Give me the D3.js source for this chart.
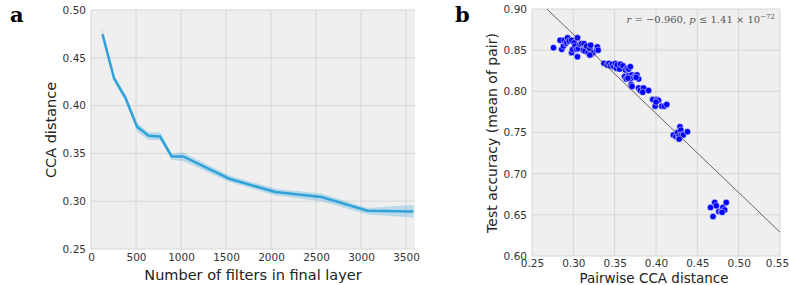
<!DOCTYPE html>
<html>
<head>
<meta charset="utf-8">
<script src="https://d3js.org/d3.v7.min.js"></script>
<style>
  body { margin: 0; background: #fff; }
</style>
</head>
<body>
<div id="plotarea"></div>
<script>
// panel a data: filters vs mean CCA distance with its band
var filters = [128, 256, 384, 512, 640, 768, 896, 1024, 1536, 2048, 2560, 3072, 3584];
var ccaMean = [0.4746, 0.4286, 0.408, 0.378, 0.3684, 0.3677, 0.3468, 0.3468, 0.3235, 0.3096, 0.3043, 0.2900, 0.2893];
var ccaLow  = [0.469, 0.425, 0.404, 0.373, 0.364, 0.364, 0.343, 0.342, 0.320, 0.306, 0.300, 0.286, 0.283];
var ccaHigh = [0.481, 0.432, 0.411, 0.382, 0.372, 0.372, 0.350, 0.351, 0.327, 0.313, 0.308, 0.293, 0.296];
var aXTicks = [0, 500, 1000, 1500, 2000, 2500, 3000, 3500];
var aYTicks = [0.25, 0.30, 0.35, 0.40, 0.45, 0.50];

// panel b data: pairwise CCA distance vs test accuracy
var pairDist = [
  0.276, 0.284, 0.286, 0.288, 0.289, 0.291, 0.292, 0.293, 0.295, 0.298, 0.298, 0.299, 0.301, 0.302, 0.304, 0.305, 0.305,
  0.306, 0.308, 0.310, 0.312, 0.313, 0.314, 0.316, 0.318, 0.320, 0.321, 0.322, 0.324, 0.328, 0.329, 0.330, 0.320,
  0.337, 0.341, 0.343, 0.345, 0.347, 0.349, 0.351, 0.352, 0.353, 0.356, 0.357, 0.360, 0.363, 0.365, 0.367, 0.369,
  0.362, 0.364, 0.367, 0.369, 0.371, 0.373, 0.375, 0.377, 0.379, 0.370, 0.371, 0.366, 0.379, 0.381, 0.385, 0.384, 0.391, 0.376,
  0.396, 0.399, 0.401, 0.403, 0.407, 0.410, 0.413, 0.400,
  0.421, 0.424, 0.426, 0.427, 0.428, 0.429, 0.430, 0.431, 0.433, 0.438, 0.428,
  0.466, 0.469, 0.471, 0.473, 0.476, 0.479, 0.481, 0.483, 0.485, 0.480];
var pairAcc = [
  0.853, 0.862, 0.851, 0.855, 0.862, 0.858, 0.860, 0.865, 0.861, 0.862, 0.847, 0.851, 0.859, 0.855, 0.851, 0.865, 0.842,
  0.852, 0.857, 0.858, 0.850, 0.858, 0.849, 0.855, 0.847, 0.852, 0.856, 0.845, 0.847, 0.850, 0.854, 0.850, 0.844,
  0.834, 0.832, 0.834, 0.831, 0.833, 0.830, 0.834, 0.828, 0.832, 0.827, 0.833, 0.831, 0.826, 0.828, 0.827, 0.830,
  0.818, 0.815, 0.819, 0.815, 0.820, 0.817, 0.819, 0.820, 0.815, 0.808, 0.806, 0.816, 0.804, 0.801, 0.804, 0.799, 0.801, 0.817,
  0.790, 0.782, 0.790, 0.789, 0.782, 0.782, 0.784, 0.787,
  0.747, 0.745, 0.750, 0.743, 0.746, 0.757, 0.753, 0.747, 0.747, 0.751, 0.742,
  0.659, 0.648, 0.665, 0.661, 0.654, 0.654, 0.659, 0.656, 0.665, 0.653];
var fitX = [0.268, 0.55];
var fitY = [0.900, 0.629];
var bXTicks = [0.25, 0.30, 0.35, 0.40, 0.45, 0.50, 0.55];
var bYTicks = [0.60, 0.65, 0.70, 0.75, 0.80, 0.85, 0.90];

var svg = d3.select("#plotarea")
  .append("svg")
    .attr("width", 790)
    .attr("height", 285)
    .style("font-family", "DejaVu Sans");

var bg = "#efefef", grid = "#d6d6d6", tickCol = "#333";

// ---------- panel a ----------
var ax = d3.scaleLinear().domain([0, 3600]).range([91, 415]);
var ay = d3.scaleLinear().domain([0.25, 0.50]).range([249, 10]);

svg.append("rect")
  .attr("x", ax(0)).attr("y", ay(0.50))
  .attr("width", ax(3600) - ax(0)).attr("height", ay(0.25) - ay(0.50))
  .attr("fill", bg);

svg.append("g").selectAll("line").data(aXTicks).enter().append("line")
  .attr("x1", function(d) { return ax(d); }).attr("x2", function(d) { return ax(d); })
  .attr("y1", ay(0.25)).attr("y2", ay(0.50))
  .attr("stroke", grid).attr("stroke-width", 1);
svg.append("g").selectAll("line").data(aYTicks).enter().append("line")
  .attr("x1", ax(0)).attr("x2", ax(3600))
  .attr("y1", function(d) { return ay(d); }).attr("y2", function(d) { return ay(d); })
  .attr("stroke", grid).attr("stroke-width", 1);

// axes, drawn with d3 then stripped of domain + tick marks
var axA = svg.append("g")
  .attr("transform", "translate(0," + ay(0.25) + ")")
  .call(d3.axisBottom(ax).tickValues(aXTicks).tickFormat(d3.format("d")).tickSize(0).tickPadding(5));
var ayA = svg.append("g")
  .attr("transform", "translate(" + ax(0) + ",0)")
  .call(d3.axisLeft(ay).tickValues(aYTicks).tickFormat(d3.format(".2f")).tickSize(0).tickPadding(5));
[axA, ayA].forEach(function(g) {
  g.select(".domain").remove();
  g.attr("font-family", null);
  g.selectAll("text").attr("font-size", 10.5).attr("fill", tickCol);
});

var aData = filters.map(function(f, i) { return {x: f, m: ccaMean[i], lo: ccaLow[i], hi: ccaHigh[i]}; });

svg.append("path")
  .datum(aData)
  .attr("fill", "#30a2da").attr("fill-opacity", 0.28)
  .attr("d", d3.area()
    .x(function(d) { return ax(d.x); })
    .y0(function(d) { return ay(d.lo); })
    .y1(function(d) { return ay(d.hi); }));

svg.append("path")
  .datum(aData)
  .attr("fill", "none").attr("stroke", "#30a2da").attr("stroke-width", 2.5)
  .attr("d", d3.line()
    .x(function(d) { return ax(d.x); })
    .y(function(d) { return ay(d.m); }));

svg.append("text")
  .attr("x", 253).attr("y", 280)
  .attr("text-anchor", "middle").attr("font-size", 14.5).attr("fill", "#222")
  .text("Number of filters in final layer");
svg.append("text")
  .attr("transform", "translate(56,130) rotate(-90)")
  .attr("text-anchor", "middle").attr("font-size", 14.5).attr("fill", "#222")
  .text("CCA distance");
svg.append("text")
  .attr("x", 10).attr("y", 22)
  .style("font-family", "'DejaVu Serif', serif").attr("font-weight", "bold").attr("font-size", 21)
  .text("a");

// ---------- panel b ----------
var bx = d3.scaleLinear().domain([0.25, 0.55]).range([532, 780]);
var by = d3.scaleLinear().domain([0.60, 0.90]).range([256, 9]);

svg.append("rect")
  .attr("x", bx(0.25)).attr("y", by(0.90))
  .attr("width", bx(0.55) - bx(0.25)).attr("height", by(0.60) - by(0.90))
  .attr("fill", bg);

svg.append("g").selectAll("line").data(bXTicks).enter().append("line")
  .attr("x1", function(d) { return bx(d); }).attr("x2", function(d) { return bx(d); })
  .attr("y1", by(0.60)).attr("y2", by(0.90))
  .attr("stroke", grid).attr("stroke-width", 1);
svg.append("g").selectAll("line").data(bYTicks).enter().append("line")
  .attr("x1", bx(0.25)).attr("x2", bx(0.55))
  .attr("y1", function(d) { return by(d); }).attr("y2", function(d) { return by(d); })
  .attr("stroke", grid).attr("stroke-width", 1);

var axB = svg.append("g")
  .attr("transform", "translate(0," + by(0.60) + ")")
  .call(d3.axisBottom(bx).tickValues(bXTicks).tickFormat(d3.format(".2f")).tickSize(0).tickPadding(4));
var ayB = svg.append("g")
  .attr("transform", "translate(" + bx(0.25) + ",0)")
  .call(d3.axisLeft(by).tickValues(bYTicks).tickFormat(d3.format(".2f")).tickSize(0).tickPadding(5));
[axB, ayB].forEach(function(g) {
  g.select(".domain").remove();
  g.attr("font-family", null);
  g.selectAll("text").attr("font-size", 10.5).attr("fill", tickCol);
});
// last label sits right at the page edge, nudge it in a little
axB.selectAll(".tick text").filter(function(d) { return d === 0.55; }).attr("x", -3);

svg.append("g").selectAll("circle")
  .data(pairDist)
  .enter()
  .append("circle")
    .attr("cx", function(d) { return bx(d); })
    .attr("cy", function(d, i) { return by(pairAcc[i]); })
    .attr("r", 3.2)
    .attr("fill", "#0000ff")
    .attr("stroke", "#fff").attr("stroke-width", 0.5);

svg.append("line")
  .attr("x1", bx(fitX[0])).attr("y1", by(fitY[0]))
  .attr("x2", bx(fitX[1])).attr("y2", by(fitY[1]))
  .attr("stroke", "#444").attr("stroke-width", 0.8);

var ann = svg.append("text")
  .attr("x", 775).attr("y", 23)
  .attr("text-anchor", "end")
  .style("font-family", "'DejaVu Serif', serif").attr("font-size", 10).attr("fill", "#555");
ann.append("tspan").attr("font-style", "italic").text("r");
ann.append("tspan").text(" = \u22120.960, ");
ann.append("tspan").attr("font-style", "italic").text("p");
ann.append("tspan").text(" \u2264 1.41 \u00d7 10");
ann.append("tspan").attr("font-size", 7).attr("dy", -4).text("\u221272");

svg.append("text")
  .attr("x", 654).attr("y", 283)
  .attr("text-anchor", "middle").attr("font-size", 13.5).attr("fill", "#222")
  .text("Pairwise CCA distance");
svg.append("text")
  .attr("transform", "translate(497,133) rotate(-90)")
  .attr("text-anchor", "middle").attr("font-size", 14).attr("fill", "#222")
  .text("Test accuracy (mean of pair)");
svg.append("text")
  .attr("x", 455).attr("y", 22)
  .style("font-family", "'DejaVu Serif', serif").attr("font-weight", "bold").attr("font-size", 21)
  .text("b");
</script>
</body>
</html>
